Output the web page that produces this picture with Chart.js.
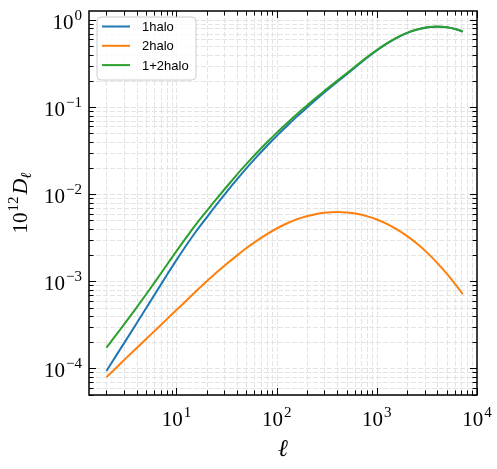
<!DOCTYPE html>
<html>
<head>
<meta charset="utf-8">
<script src="https://cdn.jsdelivr.net/npm/chart.js@4/dist/chart.umd.min.js"></script>
<style>
  html, body { margin: 0; padding: 0; background: #fff; }
  #wrap { width: 497px; height: 469px; }
</style>
</head>
<body>
<div id="wrap"><canvas id="chart" width="497" height="469"></canvas></div>
<script>
const ell = [2, 2.51, 3.16, 3.98, 5.01, 6.31, 7.94, 10, 12.6, 15.8, 20, 25.1, 31.6, 39.8, 50.1, 63.1, 79.4, 100, 126, 158, 200, 251, 316, 398, 501, 631, 794, 1000, 1259, 1585, 1995, 2512, 3162, 3981, 5012, 6310, 7200];
const oneHalo = [9.33e-5, 1.41e-4, 2.14e-4, 3.26e-4, 4.97e-4, 7.59e-4, 1.16e-3, 1.75e-3, 2.61e-3, 3.78e-3, 5.40e-3, 7.59e-3, 0.0106, 0.0146, 0.0199, 0.0268, 0.0356, 0.0466, 0.0603, 0.0773, 0.0982, 0.124, 0.155, 0.193, 0.239, 0.297, 0.367, 0.448, 0.536, 0.625, 0.708, 0.776, 0.822, 0.839, 0.826, 0.778, 0.738];
const twoHalo = [7.94e-5, 1.02e-4, 1.32e-4, 1.70e-4, 2.19e-4, 2.82e-4, 3.63e-4, 4.68e-4, 6.03e-4, 7.76e-4, 9.95e-4, 1.26e-3, 1.58e-3, 1.96e-3, 2.41e-3, 2.91e-3, 3.46e-3, 4.04e-3, 4.61e-3, 5.14e-3, 5.58e-3, 5.93e-3, 6.15e-3, 6.24e-3, 6.18e-3, 5.98e-3, 5.61e-3, 5.12e-3, 4.56e-3, 3.95e-3, 3.33e-3, 2.72e-3, 2.15e-3, 1.64e-3, 1.22e-3, 8.75e-4, 7.14e-4];
const totalHalo = [1.73e-4, 2.44e-4, 3.46e-4, 4.96e-4, 7.15e-4, 1.04e-3, 1.52e-3, 2.22e-3, 3.21e-3, 4.56e-3, 6.39e-3, 8.85e-3, 0.0121, 0.0166, 0.0223, 0.0297, 0.0390, 0.0506, 0.0649, 0.0824, 0.104, 0.130, 0.161, 0.199, 0.245, 0.303, 0.373, 0.453, 0.540, 0.629, 0.711, 0.779, 0.824, 0.841, 0.827, 0.779, 0.739];

const seriesLabels = ["1halo", "2halo", "1+2halo"];
const seriesColors = ["#1f77b4", "#ff7f0e", "#2ca02c"];
const xTickExps = [1, 2, 3, 4];
const yTickExps = [-4, -3, -2, -1, 0];
const minorMults = [2, 3, 4, 5, 6, 7, 8, 9];

const serif = '"Liberation Serif", "DejaVu Serif", serif';

function points(ys) {
    return ell.map((l, i) => ({ x: l, y: ys[i] }));
}

// "10" with a superscript exponent, laid out by hand
function expText(exp) {
    return exp < 0 ? "\u2212" + Math.abs(exp) : String(exp);
}
function powWidth(ctx, exp) {
    ctx.font = "21px " + serif;
    const w10 = ctx.measureText("10").width;
    ctx.font = "15px " + serif;
    const we = ctx.measureText(expText(exp)).width;
    return w10 + we + 1;
}
function drawPow(ctx, left, base, exp) {
    ctx.textAlign = "left";
    ctx.textBaseline = "alphabetic";
    ctx.font = "21px " + serif;
    ctx.fillText("10", left, base);
    const w10 = ctx.measureText("10").width;
    ctx.font = "15px " + serif;
    ctx.fillText(expText(exp), left + w10 + 1, base - 9);
}

function decadeValues(lo, hi) {
    const out = [];
    for (let k = lo; k <= hi; k++) {
        out.push({ v: Math.pow(10, k), major: true });
        minorMults.forEach(m => out.push({ v: m * Math.pow(10, k), major: false }));
    }
    return out;
}

const axesPlugin = {
    id: "axesPlugin",
    beforeDatasetsDraw(chart) {
        const ctx = chart.ctx;
        const a = chart.chartArea;
        const xs = chart.scales.x, ys = chart.scales.y;
        ctx.save();
        ctx.strokeStyle = "#e4e4e4";
        ctx.lineWidth = 1;
        ctx.setLineDash([5, 2]);
        decadeValues(0, 4).forEach(t => {
            if (t.v <= xs.min || t.v >= xs.max) return;
            const px = Math.round(xs.getPixelForValue(t.v)) + 0.5;
            ctx.beginPath(); ctx.moveTo(px, a.top); ctx.lineTo(px, a.bottom); ctx.stroke();
        });
        decadeValues(-5, 0).forEach(t => {
            if (t.v <= ys.min || t.v >= ys.max) return;
            const py = Math.round(ys.getPixelForValue(t.v)) + 0.5;
            ctx.beginPath(); ctx.moveTo(a.left, py); ctx.lineTo(a.right, py); ctx.stroke();
        });
        ctx.restore();
    },
    afterDatasetsDraw(chart) {
        const ctx = chart.ctx;
        const a = chart.chartArea;
        const xs = chart.scales.x, ys = chart.scales.y;
        ctx.save();
        ctx.strokeStyle = "#000";
        ctx.lineWidth = 1;
        // inward ticks on all four sides
        decadeValues(0, 4).forEach(t => {
            if (t.v < xs.min || t.v > xs.max) return;
            const px = Math.round(xs.getPixelForValue(t.v)) + 0.5;
            const len = t.major ? 7 : 4.5;
            ctx.beginPath();
            ctx.moveTo(px, a.bottom); ctx.lineTo(px, a.bottom - len);
            ctx.moveTo(px, a.top); ctx.lineTo(px, a.top + len);
            ctx.stroke();
        });
        decadeValues(-5, 0).forEach(t => {
            if (t.v < ys.min || t.v > ys.max) return;
            const py = Math.round(ys.getPixelForValue(t.v)) + 0.5;
            const len = t.major ? 7 : 4.5;
            ctx.beginPath();
            ctx.moveTo(a.left, py); ctx.lineTo(a.left + len, py);
            ctx.moveTo(a.right, py); ctx.lineTo(a.right - len, py);
            ctx.stroke();
        });
        // frame
        ctx.lineWidth = 1.5;
        ctx.strokeRect(a.left, a.top, a.right - a.left, a.bottom - a.top);

        // tick labels
        ctx.fillStyle = "#000";
        xTickExps.forEach(e => {
            const px = xs.getPixelForValue(Math.pow(10, e));
            const w = powWidth(ctx, e);
            drawPow(ctx, px - w / 2, a.bottom + 31, e);
        });
        yTickExps.forEach(e => {
            const py = ys.getPixelForValue(Math.pow(10, e));
            const w = powWidth(ctx, e);
            drawPow(ctx, a.left - 7 - w, py + 9, e);
        });

        // x title
        ctx.font = "italic 24px " + serif;
        ctx.textAlign = "center";
        ctx.textBaseline = "alphabetic";
        ctx.fillText("\u2113", (a.left + a.right) / 2, 456);

        // y title: 10^12 D_ell, rotated
        ctx.save();
        ctx.translate(27, (a.top + a.bottom) / 2);
        ctx.rotate(-Math.PI / 2);
        ctx.textAlign = "left";
        ctx.font = "21px " + serif;
        const w10 = ctx.measureText("10").width;
        ctx.font = "15px " + serif;
        const w12 = ctx.measureText("12").width;
        ctx.font = "italic 22px " + serif;
        const wD = ctx.measureText("D").width;
        ctx.font = "italic 15px " + serif;
        const wl = ctx.measureText("\u2113").width;
        let x = -(w10 + w12 + wD + wl + 3) / 2;
        ctx.font = "21px " + serif;
        ctx.fillText("10", x, 0); x += w10 + 1;
        ctx.font = "15px " + serif;
        ctx.fillText("12", x, -9); x += w12 + 2;
        ctx.font = "italic 22px " + serif;
        ctx.fillText("D", x, 0); x += wD;
        ctx.font = "italic 15px " + serif;
        ctx.fillText("\u2113", x, 4);
        ctx.restore();

        // legend box, upper left inside the axes
        const lx = a.left + 8, ly = a.top + 6, lw = 99, lh = 63;
        ctx.beginPath();
        ctx.roundRect(lx, ly, lw, lh, 4);
        ctx.fillStyle = "rgba(255,255,255,0.8)";
        ctx.fill();
        ctx.strokeStyle = "#cccccc";
        ctx.lineWidth = 1;
        ctx.stroke();
        ctx.font = '13px "Liberation Sans", Arial, sans-serif';
        ctx.textBaseline = "middle";
        ctx.textAlign = "left";
        seriesLabels.forEach((lab, i) => {
            const yy = ly + 9.5 + i * 19.3;
            ctx.strokeStyle = seriesColors[i];
            ctx.lineWidth = 2;
            ctx.beginPath(); ctx.moveTo(lx + 5, yy); ctx.lineTo(lx + 33, yy); ctx.stroke();
            ctx.fillStyle = "#000";
            ctx.fillText(lab, lx + 45, yy + 1);
        });
        ctx.restore();
    }
};

const ds = (i, ys, order) => ({
    label: seriesLabels[i],
    data: points(ys),
    borderColor: seriesColors[i],
    backgroundColor: seriesColors[i],
    borderWidth: 2,
    pointRadius: 0,
    fill: false,
    cubicInterpolationMode: "monotone",
    order: order
});

new Chart(document.getElementById("chart").getContext("2d"), {
    type: "line",
    data: {
        datasets: [ds(0, oneHalo, 3), ds(1, twoHalo, 2), ds(2, totalHalo, 1)]
    },
    options: {
        responsive: false,
        animation: false,
        devicePixelRatio: 1,
        layout: { padding: { top: 11, right: 20, left: 0, bottom: 0 } },
        plugins: { legend: { display: false }, tooltip: { enabled: false } },
        scales: {
            x: {
                type: "logarithmic",
                min: 1.34,
                max: 1e4,
                ticks: { display: false },
                grid: { display: false },
                border: { display: false },
                afterFit: s => { s.height = 74; }
            },
            y: {
                type: "logarithmic",
                min: 4.95e-5,
                max: 1.27,
                ticks: { display: false },
                grid: { display: false },
                border: { display: false },
                afterFit: s => { s.width = 89; }
            }
        }
    },
    plugins: [axesPlugin]
});
</script>
</body>
</html>
